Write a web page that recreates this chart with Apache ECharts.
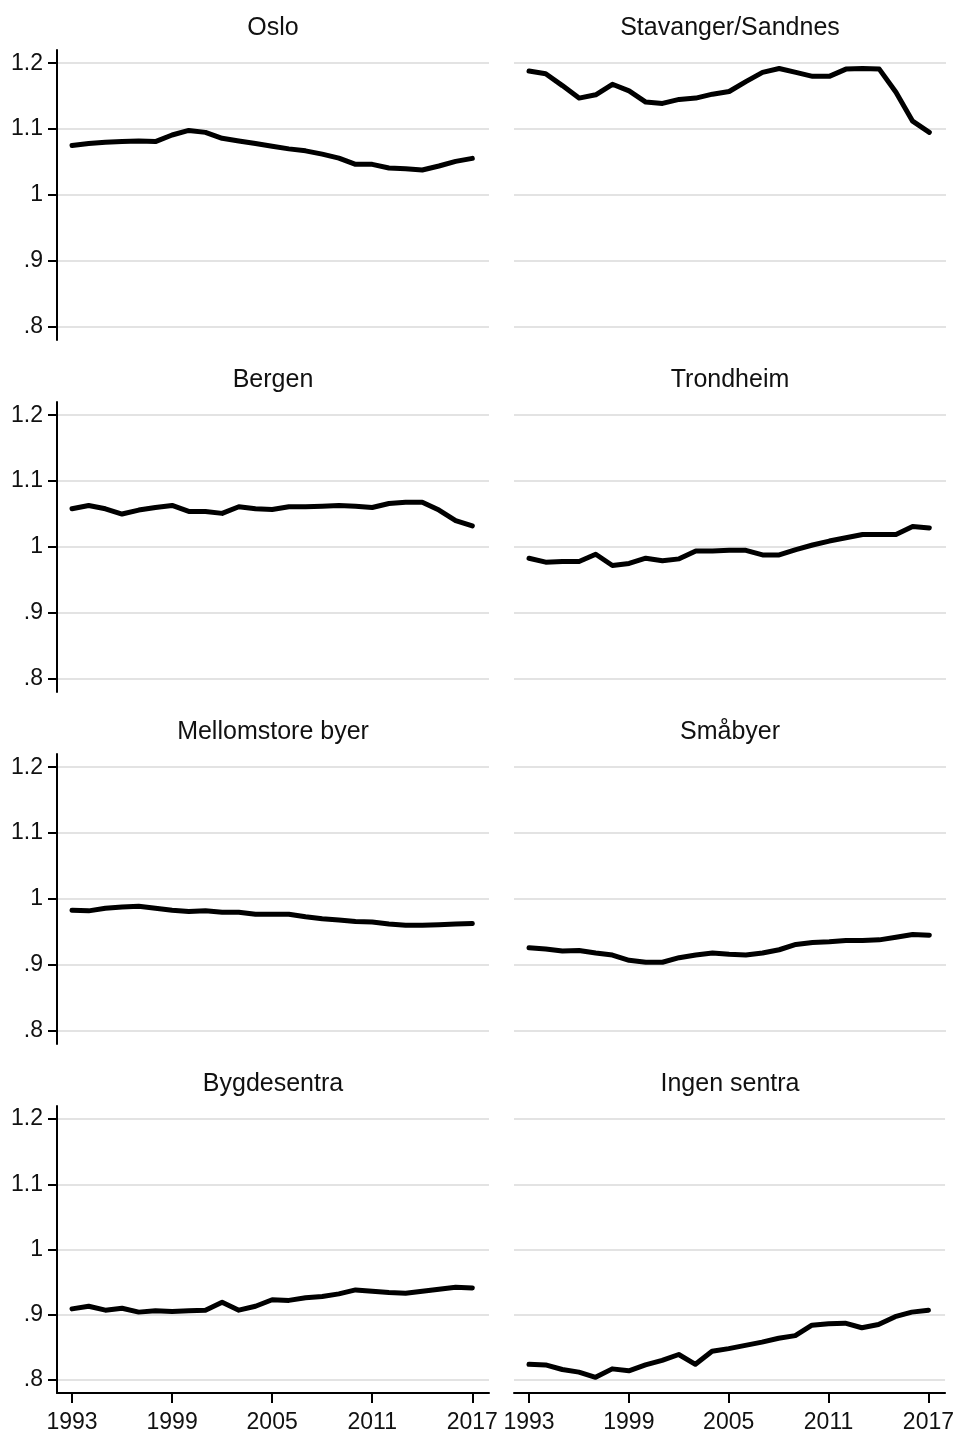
<!DOCTYPE html>
<html><head><meta charset="utf-8">
<script src="https://cdn.jsdelivr.net/npm/echarts@6/dist/echarts.min.js"></script>
<style>html,body{margin:0;padding:0;background:#fff}#c{width:957px;height:1434px}</style>
</head><body><div id="c"></div><script>
const years = [1993,1994,1995,1996,1997,1998,1999,2000,2001,2002,2003,2004,2005,2006,2007,2008,2009,2010,2011,2012,2013,2014,2015,2016,2017];
const panelNames = ['Oslo','Stavanger/Sandnes','Bergen','Trondheim','Mellomstore byer','Småbyer','Bygdesentra','Ingen sentra'];
const oslo = [1.075,1.078,1.080,1.081,1.082,1.081,1.091,1.098,1.095,1.086,1.082,1.078,1.074,1.070,1.067,1.062,1.056,1.0465,1.0465,1.041,1.040,1.038,1.044,1.051,1.0556];
const stavanger = [1.188,1.184,1.166,1.147,1.152,1.168,1.158,1.141,1.139,1.145,1.147,1.153,1.157,1.172,1.186,1.192,1.186,1.180,1.180,1.191,1.192,1.191,1.156,1.112,1.095];
const bergen = [1.058,1.063,1.058,1.050,1.056,1.060,1.063,1.054,1.054,1.051,1.061,1.058,1.057,1.061,1.061,1.062,1.063,1.062,1.060,1.066,1.068,1.068,1.056,1.040,1.032];
const trondheim = [0.983,0.977,0.978,0.978,0.989,0.972,0.975,0.983,0.979,0.982,0.994,0.994,0.995,0.995,0.988,0.988,0.996,1.003,1.009,1.014,1.019,1.019,1.019,1.031,1.029];
const mellomstore = [0.983,0.982,0.986,0.988,0.989,0.986,0.983,0.981,0.982,0.980,0.980,0.977,0.977,0.977,0.973,0.970,0.968,0.966,0.965,0.962,0.960,0.960,0.961,0.962,0.963];
const smabyer = [0.926,0.924,0.921,0.922,0.918,0.915,0.907,0.904,0.904,0.911,0.915,0.918,0.916,0.915,0.918,0.923,0.931,0.934,0.935,0.937,0.937,0.938,0.942,0.946,0.945];
const bygdesentra = [0.909,0.913,0.907,0.910,0.904,0.906,0.905,0.906,0.907,0.919,0.907,0.913,0.923,0.922,0.926,0.928,0.932,0.938,0.936,0.934,0.933,0.936,0.939,0.942,0.941];
const ingenSentra = [0.824,0.823,0.816,0.812,0.804,0.817,0.814,0.823,0.830,0.839,0.824,0.844,0.848,0.853,0.858,0.864,0.868,0.884,0.886,0.887,0.880,0.885,0.897,0.904,0.907];
const seriesData = [oslo, stavanger, bergen, trondheim, mellomstore, smabyer, bygdesentra, ingenSentra];
const yTicks = [0.8, 0.9, 1, 1.1, 1.2];
const xTicks = [1993, 1999, 2005, 2011, 2017];

const FONT = '"Liberation Sans", Arial, Helvetica, sans-serif';
const colLeft = [57, 514];
const plotW = 432;
const rowTop0 = 50, rowStep = 352, plotH = 290;

const grids = [], xAxes = [], yAxes = [], series = [], graphics = [];
for (let i = 0; i < 8; i++) {
  const col = i % 2, row = Math.floor(i / 2);
  const left = colLeft[col], top = rowTop0 + row * rowStep;
  grids.push({left: left, top: top, width: plotW, height: plotH, containLabel: false});
  const bottomRow = row === 3;
  xAxes.push({
    type: 'value', gridIndex: i, min: 1992.1, max: 2018,
    show: bottomRow,
    axisLine: {show: true, onZero: false, lineStyle: {color: '#000', width: 2}},
    axisTick: {show: true, length: 10, customValues: xTicks, lineStyle: {color: '#000', width: 2}},
    axisLabel: {show: true, customValues: xTicks, margin: 18, fontSize: 23, color: '#111', fontFamily: FONT, formatter: v => String(v)},
    splitLine: {show: false}
  });
  yAxes.push({
    type: 'value', gridIndex: i, min: 0.78, max: 1.22,
    axisLine: {show: col === 0, onZero: false, lineStyle: {color: '#000', width: 2}},
    axisTick: {show: col === 0, length: 9, customValues: yTicks, lineStyle: {color: '#000', width: 2}},
    axisLabel: {show: col === 0, customValues: yTicks, margin: 14, fontSize: 23, color: '#111', fontFamily: FONT,
      formatter: v => { const s = String(+(+v).toFixed(1)); return s.charAt(0) === '0' ? s.slice(1) : s; }},
    splitLine: {show: true, lineStyle: {color: '#e3e3e3', width: 2}}
  });
  series.push({
    type: 'line', name: panelNames[i], xAxisIndex: i, yAxisIndex: i,
    data: years.map((y, k) => [y, seriesData[i][k]]),
    showSymbol: false, symbol: 'none', smooth: false, silent: true,
    lineStyle: {color: '#000', width: 5, join: 'round', cap: 'round'}
  });
  graphics.push({
    type: 'text', x: left + plotW / 2, y: 28 + row * rowStep,
    style: {text: panelNames[i], fontSize: 25, fontFamily: FONT, fill: '#111', textAlign: 'center', textVerticalAlign: 'middle'}
  });
}

const chart = echarts.init(document.getElementById('c'), null, {renderer: 'canvas'});
chart.setOption({
  animation: false,
  backgroundColor: '#fff',
  grid: grids, xAxis: xAxes, yAxis: yAxes, series: series, graphic: graphics
});
</script></body></html>
